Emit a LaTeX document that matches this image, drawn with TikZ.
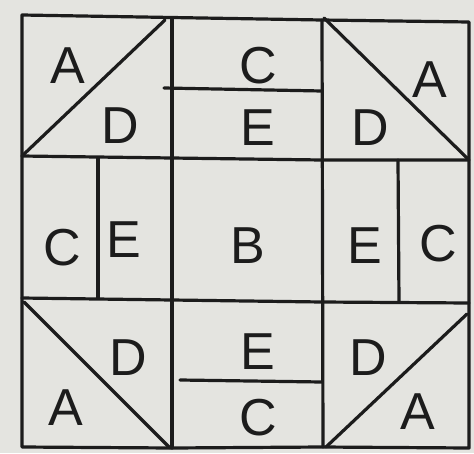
\documentclass[tikz,border=0pt]{standalone}
\usepackage{fontspec}
\setmainfont{Liberation Sans}
\definecolor{paper}{HTML}{E4E4E0}
\definecolor{ink}{HTML}{1C1C1C}
\begin{document}
\begin{tikzpicture}[x=1pt,y=-1pt,
  seam/.style={draw=ink,line width=3.2pt,line cap=round,line join=round},
  lab/.style={text=ink,font=\fontsize{52}{52}\selectfont,inner sep=0pt}]
\fill[paper] (0,0) rectangle (474,453);
\useasboundingbox (0,0) rectangle (474,453);
% outer frame
\draw[seam] (22,15) -- (322,20) -- (469,22) -- (469,448) -- (322,447) -- (172,448) -- (22,447) -- cycle;
% grid lines
\draw[seam] (172,18) -- (172,448);
\draw[seam] (322,20) -- (323,447);
\draw[seam] (22,156) -- (172,158) -- (322,160) -- (469,160);
\draw[seam] (22,298) -- (172,300) -- (322,302) -- (469,303);
% top-middle split
\draw[seam] (164,88) -- (322,91);
% bottom-middle split
\draw[seam] (180,380) -- (322,382);
% middle-left / middle-right splits
\draw[seam] (98,158) -- (98,298);
\draw[seam] (398,160) -- (399,302);
% diagonals
\draw[seam] (22,156) -- (165,20);
\draw[seam] (324,18) -- (467,158);
\draw[seam] (24,302) -- (170,448);
\draw[seam] (326,447) -- (467,314);
% labels
\node[lab] (a1) at (68,66) {A};
\node[lab] (d1) at (120,126) {D};
\node[lab] (c1) at (258,66) {C};
\node[lab] (e1) at (258,128) {E};
\node[lab] (d2) at (370,128) {D};
\node[lab] (a2) at (430,80) {A};
\node[lab] (c2) at (62,248) {C};
\node[lab] (e2) at (124,240) {E};
\node[lab] (b)  at (248,246) {B};
\node[lab] (e3) at (365,246) {E};
\node[lab] (c3) at (438,244) {C};
\node[lab] (d3) at (128,358) {D};
\node[lab] (a3) at (66,408) {A};
\node[lab] (e4) at (258,352) {E};
\node[lab] (c4) at (258,418) {C};
\node[lab] (d4) at (368,358) {D};
\node[lab] (a4) at (418,412) {A};
\end{tikzpicture}
\end{document}
